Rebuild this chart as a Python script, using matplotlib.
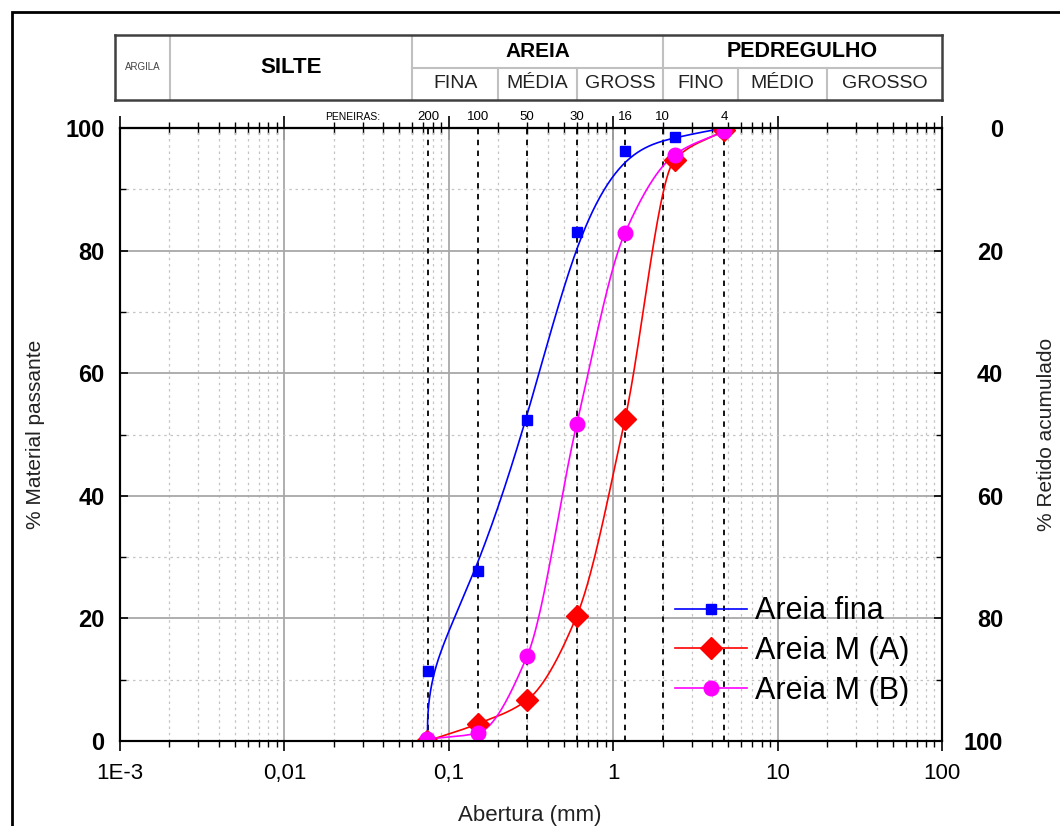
import numpy as np
import matplotlib.pyplot as plt
from matplotlib.lines import Line2D
from matplotlib.patches import Rectangle
from matplotlib.ticker import NullFormatter, MultipleLocator, LogLocator

plt.rcParams['font.family'] = ['Liberation Sans', 'DejaVu Sans']

# Curvas granulometricas (abertura em mm, % passante)
abertura_fina = [0.074, 0.075, 0.15, 0.3, 0.6, 1.18, 2.36, 4.75]
passante_fina = [0, 11.5, 27.8, 52.3, 83.0, 96.2, 98.5, 100]

abertura_m = [0.074, 0.15, 0.3, 0.6, 1.18, 2.36, 4.75]
passante_ma = [0, 2.8, 6.7, 20.4, 52.5, 94.8, 99.6]
passante_mb = [0.3, 1.3, 13.9, 51.7, 82.9, 95.6, 99.5]

# Peneiras (numero e abertura em mm)
peneiras = ['200', '100', '50', '30', '16', '10', '4']
peneiras_mm = [0.075, 0.15, 0.3, 0.6, 1.18, 2.0, 4.75]

x_ticks = [1e-3, 1e-2, 1e-1, 1, 10, 100]
x_labels = ['1E-3', '0,01', '0,1', '1', '10', '100']
y_ticks = [0, 20, 40, 60, 80, 100]

# Limites das fracoes (mm) para o cabecalho
lim_argila = 0.002
lim_silte = 0.06
lim_areia_fina = 0.2
lim_areia_media = 0.6
lim_areia = 2.0
lim_ped_fino = 5.7
lim_ped_medio = 20.0


def pchip_curve(x, y, n=50):
    # monotone cubic in log-x space, only for drawing the connecting line
    t = np.log10(np.asarray(x, float))
    y = np.asarray(y, float)
    h = np.diff(t)
    d = np.diff(y) / h
    m = np.zeros_like(y)
    m[0] = d[0]
    m[-1] = d[-1]
    for k in range(1, len(y) - 1):
        if d[k - 1] * d[k] > 0:
            w1 = 2 * h[k] + h[k - 1]
            w2 = h[k] + 2 * h[k - 1]
            m[k] = (w1 + w2) / (w1 / d[k - 1] + w2 / d[k])
    s = np.linspace(0, 1, n)
    h00 = 2 * s**3 - 3 * s**2 + 1
    h10 = s**3 - 2 * s**2 + s
    h01 = -2 * s**3 + 3 * s**2
    h11 = s**3 - s**2
    xs, ys = [], []
    for k in range(len(h)):
        xs.append(t[k] + s * h[k])
        ys.append(h00 * y[k] + h10 * h[k] * m[k] + h01 * y[k + 1] + h11 * h[k] * m[k + 1])
    return 10 ** np.concatenate(xs), np.concatenate(ys)


def bspline_curve(x, y, n=40):
    # clamped uniform cubic B-spline (approximating, like Origin's B-spline)
    P = np.column_stack([np.log10(x), y])
    P = np.vstack([P[:1], P[:1], P, P[-1:], P[-1:]])
    s = np.linspace(0, 1, n)[:, None]
    b0 = (1 - s)**3 / 6
    b1 = (3 * s**3 - 6 * s**2 + 4) / 6
    b2 = (-3 * s**3 + 3 * s**2 + 3 * s + 1) / 6
    b3 = s**3 / 6
    C = np.vstack([b0 * P[i] + b1 * P[i + 1] + b2 * P[i + 2] + b3 * P[i + 3]
                   for i in range(len(P) - 3)])
    return 10 ** C[:, 0], C[:, 1]


W, H = 1060, 826
fig = plt.figure(figsize=(W / 100, H / 100), dpi=100)

# Main axes
ax = fig.add_axes([120 / W, 1 - 741 / H, 822 / W, 613 / H])
ax.set_xscale('log')
ax.set_xlim(1e-3, 100)
ax.set_ylim(0, 100)

ax.xaxis.set_minor_locator(LogLocator(base=10, subs=np.arange(2, 10)))
ax.xaxis.set_minor_formatter(NullFormatter())
ax.yaxis.set_minor_locator(MultipleLocator(10))
ax.set_xticks(x_ticks, x_labels)
ax.set_yticks(y_ticks, [str(v) for v in y_ticks], fontweight='bold')

ax.grid(which='major', color='#a8a8a8', lw=1.3, ls='-', zorder=0)
ax.grid(which='minor', color='#c4c4c4', lw=0.9, ls=(0, (2, 3)), zorder=0)
ax.set_axisbelow(True)

ax.tick_params(axis='x', which='major', direction='out', length=7, width=1.2,
               labelsize=16, pad=9, top=False)
ax.tick_params(axis='x', which='minor', direction='out', length=4.3, width=1.0, top=False)
ax.tick_params(axis='y', which='major', direction='in', length=6, width=1.2,
               labelsize=17, pad=11)
ax.tick_params(axis='y', which='minor', direction='in', length=4, width=1.0)
for sp in ax.spines.values():
    sp.set_linewidth(1.5)

# Top axis with crossing ticks
secax = ax.secondary_xaxis('top')
secax.xaxis.set_major_formatter(NullFormatter())
secax.xaxis.set_minor_formatter(NullFormatter())
secax.tick_params(which='major', direction='inout', length=17, width=1.2)
secax.tick_params(which='minor', direction='inout', length=8.6, width=1.0)
secax.spines['top'].set_linewidth(1.5)

# Right axis (% retido)
ax2 = ax.twinx()
ax2.set_ylim(100, 0)
ax2.yaxis.set_minor_locator(MultipleLocator(10))
ax2.set_yticks(y_ticks, [str(v) for v in y_ticks], fontweight='bold', ha='right')
ax2.tick_params(axis='y', which='major', direction='in', length=6, width=1.2,
                labelsize=17, pad=44)
ax2.tick_params(axis='y', which='minor', direction='in', length=4, width=1.0)
for sp in ax2.spines.values():
    sp.set_linewidth(1.5)

# Sieve lines and labels
for lbl, xv in zip(peneiras, peneiras_mm):
    ax.axvline(xv, color='black', lw=1.3, ls=(0, (3, 3)), zorder=1)
    ax.text(xv, 1.013, lbl, transform=ax.get_xaxis_transform(), ha='center',
            va='baseline', fontsize=9.5)
ax.text(0.026, 1.013, 'PENEIRAS:', transform=ax.get_xaxis_transform(), ha='center',
        va='baseline', fontsize=7.5)

# Curves
cx, cy = bspline_curve(abertura_fina, passante_fina)
ax.plot(cx, cy, color='#0000ff', lw=1.2, zorder=3)
ax.plot(abertura_fina, passante_fina, ls='none', marker='s', ms=6.5, color='#0000ff', zorder=4)

cx, cy = pchip_curve(abertura_m, passante_ma)
ax.plot(cx, cy, color='#ff0000', lw=1.2, zorder=3)
ax.plot(abertura_m, passante_ma, ls='none', marker='D', ms=11, color='#ff0000', zorder=4)

cx, cy = pchip_curve(abertura_m, passante_mb)
ax.plot(cx, cy, color='#ff00ff', lw=1.2, zorder=3)
ax.plot(abertura_m, passante_mb, ls='none', marker='o', ms=10.5, color='#ff00ff', zorder=5)

handles = [
    Line2D([], [], color='#0000ff', lw=1.2, marker='s', ms=6.5),
    Line2D([], [], color='#ff0000', lw=1.2, marker='D', ms=11),
    Line2D([], [], color='#ff00ff', lw=1.2, marker='o', ms=10.5),
]
ax.legend(handles, ['Areia fina', 'Areia M (A)', 'Areia M (B)'], loc='center',
          bbox_to_anchor=(792 / W, 1 - 651 / H), bbox_transform=fig.transFigure,
          frameon=False, fontsize=22, handlelength=2.35, handletextpad=0.25,
          labelspacing=0.32, borderpad=0.2)

# Axis titles
fig.text(36 / W, 1 - 434 / H, '% Material passante', rotation=90, ha='center',
         va='center', fontsize=15, color='#222222')
fig.text(1047 / W, 1 - 434 / H, '% Retido acumulado', rotation=90, ha='center',
         va='center', fontsize=15, color='#222222')
fig.text(530 / W, 1 - 815 / H, 'Abertura (mm)', ha='center', va='center',
         fontsize=16, color='#222222')

# Header with soil fractions
hax = fig.add_axes([115 / W, 1 - 100 / H, 827 / W, 65 / H])
hax.set_xscale('log')
x0 = 9.3e-4
hax.set_xlim(x0, 100)
hax.set_ylim(0, 1)
hax.set_xticks([])
hax.set_xticks([], minor=True)
hax.set_yticks([])
for sp in hax.spines.values():
    sp.set_color('#404040')
    sp.set_linewidth(1.8)

gray = '#c0c0c0'
for xv in [lim_argila, lim_silte, lim_areia]:
    hax.plot([xv, xv], [0, 1], color=gray, lw=1.5)
for xv in [lim_areia_fina, lim_areia_media, lim_ped_fino, lim_ped_medio]:
    hax.plot([xv, xv], [0, 0.5], color=gray, lw=1.5)
hax.plot([lim_silte, 100], [0.5, 0.5], color=gray, lw=1.5)


def gm(a, b):
    return np.sqrt(a * b)


hax.text(gm(x0, lim_argila), 0.5, 'ARGILA', ha='center', va='center', fontsize=7, color='#444444')
hax.text(gm(lim_argila, lim_silte), 0.5, 'SILTE', ha='center', va='center', fontsize=16, fontweight='bold')
hax.text(gm(lim_silte, lim_areia), 0.75, 'AREIA', ha='center', va='center', fontsize=15, fontweight='bold')
hax.text(gm(lim_areia, 100), 0.75, 'PEDREGULHO', ha='center', va='center', fontsize=15.5, fontweight='bold')
sub = [('FINA', lim_silte, lim_areia_fina), ('MÉDIA', lim_areia_fina, lim_areia_media),
       ('GROSS', lim_areia_media, lim_areia), ('FINO', lim_areia, lim_ped_fino),
       ('MÉDIO', lim_ped_fino, lim_ped_medio), ('GROSSO', lim_ped_medio, 100)]
for txt, a, b in sub:
    hax.text(gm(a, b), 0.25, txt, ha='center', va='center', fontsize=14, color='#222222')

# Outer frame
fig.patches.append(Rectangle((12 / W, -0.05), 1.2, (H - 12) / H + 0.05,
                             transform=fig.transFigure, fill=False, lw=2,
                             ec='black', clip_on=False))

fig.savefig('out.png', dpi=100)
